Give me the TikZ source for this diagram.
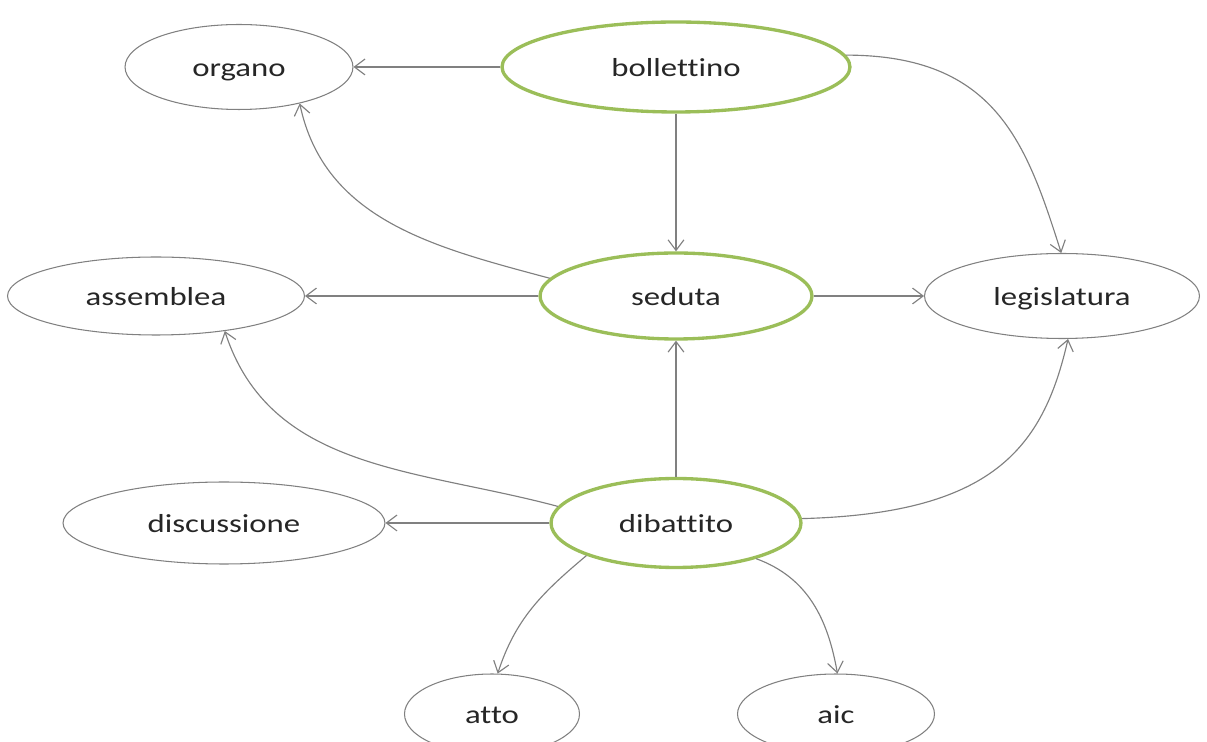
\documentclass[tikz,border=0pt]{standalone}
\usepackage{fontspec}
\setmainfont{Carlito}[Ligatures=NoCommon,FakeStretch=1.26]
\usetikzlibrary{shapes.geometric,arrows.meta}
\definecolor{keygreen}{RGB}{155,190,89}
\definecolor{linegray}{RGB}{128,128,128}
\begin{document}
\begin{tikzpicture}[x=0.02cm,y=-0.02cm,
    nd/.style={ellipse,draw=linegray,line width=0.6pt,inner sep=0pt,
      text=black!85,font=\fontsize{14.8}{18}\selectfont,
      text height=14pt,text depth=3.2pt},
    key/.style={nd,draw=keygreen,line width=1.9pt},
    link/.style={draw=linegray,line width=0.65pt,
      -{Straight Barb[length=6pt,width=9pt]}}]
  \useasboundingbox (0,0) rectangle (1207,742);
  % main nodes
  \node[key,minimum width=6.96cm,minimum height=1.8cm] (bol) at (676,67) {bollettino};
  \node[key,minimum width=5.44cm,minimum height=1.72cm] (sed) at (676,296) {seduta};
  \node[key,minimum width=5.0cm,minimum height=1.78cm] (dib) at (676,523) {dibattito};
  % the others
  \node[nd,minimum width=4.56cm,minimum height=1.7cm] (org) at (239,67) {organo};
  \node[nd,minimum width=5.94cm,minimum height=1.56cm] (ass) at (156,296) {assemblea};
  \node[nd,minimum width=5.5cm,minimum height=1.7cm] (leg) at (1062,296) {legislatura};
  \node[nd,minimum width=6.44cm,minimum height=1.64cm] (dis) at (224,523) {discussione};
  \node[nd,minimum width=3.5cm,minimum height=1.6cm] (att) at (492,714) {atto};
  \node[nd,minimum width=3.94cm,minimum height=1.6cm] (aic) at (836,714) {aic};
  % links
  \draw[link] (bol) -- (org);
  \draw[link] (bol) -- (sed);
  \draw[link] (bol.4) .. controls +(150,0) and +(-35,-110) .. (leg.91);
  \draw[link] (sed.172) to[out=165,in=-78] (org.-31);
  \draw[link] (sed) -- (ass);
  \draw[link] (sed) -- (leg);
  \draw[link] (dib) -- (sed);
  \draw[link] (dib.172) to[out=165,in=-72] (ass.-27);
  \draw[link] (dib) -- (dis);
  \draw[link] (dib.2) .. controls +(190,-5) and +(-25,110) .. (leg.-82);
  \draw[link] (dib.-160) to[out=-140,in=72] (att.82);
  \draw[link] (dib.-24) to[out=-20,in=100] (aic.88);
\end{tikzpicture}
\end{document}
